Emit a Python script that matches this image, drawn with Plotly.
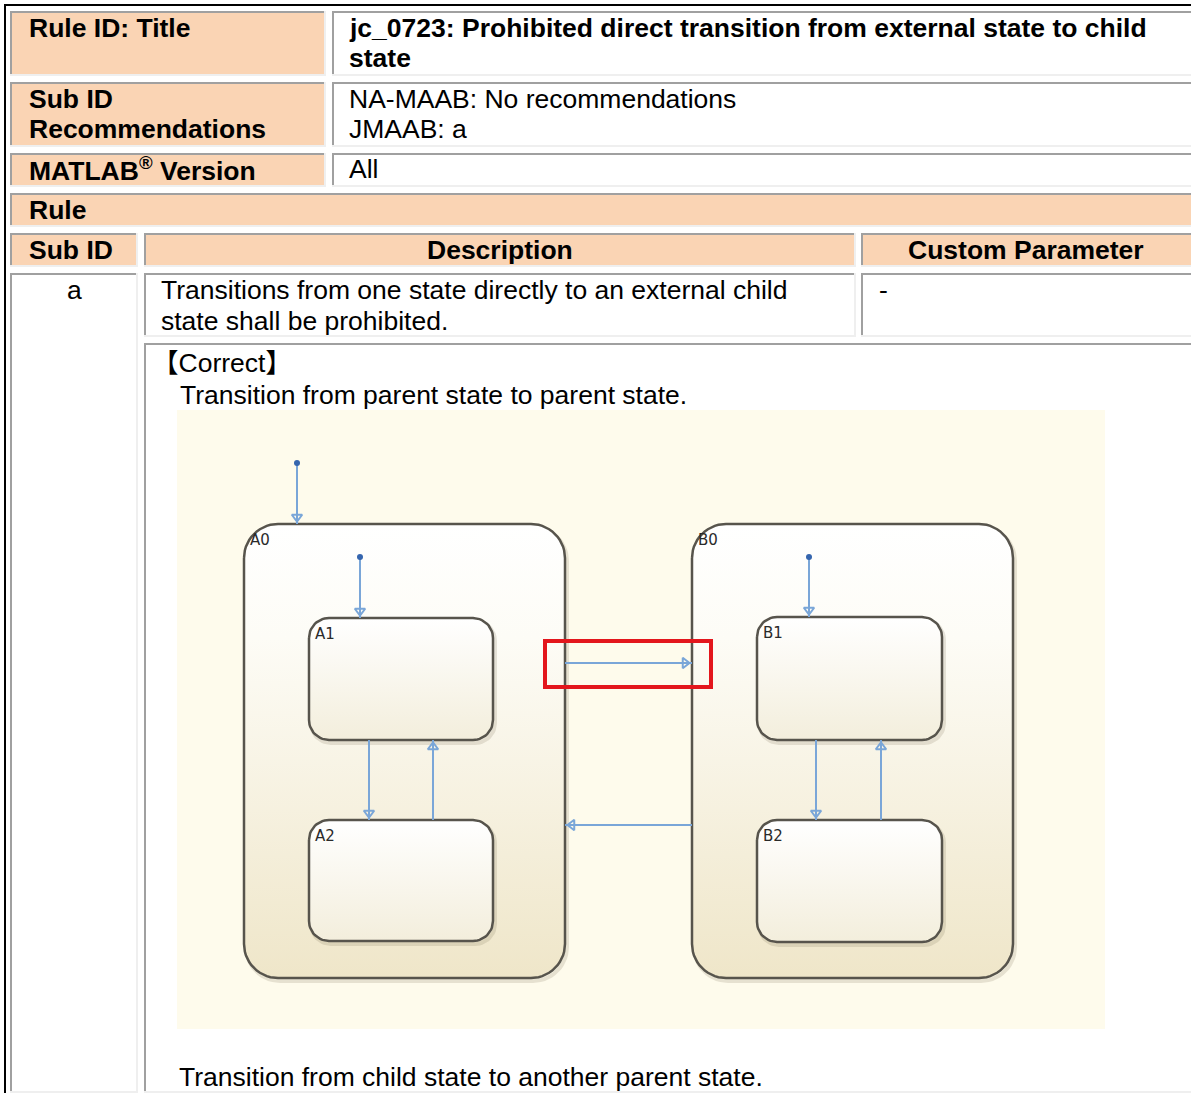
import math
import plotly.graph_objects as go

W, H = 1191, 1093

# ---------------- content (text) ----------------
title_label = "Rule ID: Title"
title_lines = ["jc_0723: Prohibited direct transition from external state to child", "state"]
subid_label_lines = ["Sub ID", "Recommendations"]
subid_value_lines = ["NA-MAAB: No recommendations", "JMAAB: a"]
version_label = "MATLAB<sup>®</sup> Version"
version_value = "All"
rule_label = "Rule"
column_headers = ["Sub ID", "Description", "Custom Parameter"]
sub_ids = ["a"]
description_lines = ["Transitions from one state directly to an external child", "state shall be prohibited."]
custom_params = ["-"]
example_heading = "【Correct】"
example_captions = ["Transition from parent state to parent state.",
                    "Transition from child state to another parent state."]

# ---------------- diagram data ----------------
state_names = ["A0", "A1", "A2", "B0", "B1", "B2"]
state_is_parent = [True, False, False, True, False, False]
state_left = [244, 309, 309, 692, 757, 757]
state_right = [565, 493, 493, 1013, 942, 942]
state_top = [524, 618, 820, 524, 617, 820]
state_bottom = [978, 740, 941, 978, 740, 942]

trans_x_from = [297, 360, 369, 433, 565, 692, 809, 816, 881]
trans_y_from = [463, 557, 740, 820, 663, 825, 557, 740, 820]
trans_x_to = [297, 360, 369, 433, 692, 565, 809, 816, 881]
trans_y_to = [524, 618, 820, 740, 663, 825, 617, 820, 740]
trans_is_default = [True, True, False, False, False, False, True, False, False]

highlight_box = [545, 641, 711, 687]  # x0, y0, x1, y1

# ---------------- styles ----------------
PEACH = "#FAD4B4"
GRAY = "#A0A0A0"
LIGHT = "#EFEFEF"
FONT = "Liberation Sans, Arial, Noto Sans CJK JP, sans-serif"
FS = 26.5
BLUE = "#7AA6D8"
DOT = "#3565AE"

fig = go.Figure()
shapes = []
annotations = []


def rect(x0, y0, x1, y1, color, layer="below"):
    shapes.append(dict(type="rect", xref="x", yref="y", x0=x0, y0=y0, x1=x1, y1=y1,
                       fillcolor=color, line=dict(width=0), layer=layer))


def cell(x0, y0, x1, y1, fill):
    rect(x0, y0, x1, y1, fill)
    rect(x0, y0, x1, y0 + 2, GRAY)          # top
    rect(x0, y0, x0 + 2, y1, GRAY)          # left
    rect(x0, y1 - 2, x1, y1, LIGHT)         # bottom
    rect(x1 - 2, y0, x1, y1, LIGHT)         # right


def text(x, baseline, s, bold=False, anchor="left", size=FS, color="#000000"):
    annotations.append(dict(x=x, y=baseline - 0.345 * size, xref="x", yref="y",
                            text=("<b>%s</b>" % s) if bold else s, showarrow=False,
                            xanchor=anchor, yanchor="middle", borderpad=0,
                            font=dict(family=FONT, size=size, color=color)))


# outer black frame
rect(4, 4, W + 5, 6, "#000000")
rect(4, 4, 6, H + 5, "#000000")

RX = W + 6
cell(10, 11, 326, 76, PEACH)
cell(332, 11, RX, 76, "#FFFFFF")
cell(10, 82, 326, 147, PEACH)
cell(332, 82, RX, 147, "#FFFFFF")
cell(10, 153, 326, 187, PEACH)
cell(332, 153, RX, 187, "#FFFFFF")
cell(10, 193, RX, 227, PEACH)
cell(10, 233, 138, 267, PEACH)
cell(144, 233, 856, 267, PEACH)
cell(861, 233, RX, 267, PEACH)
cell(10, 273, 138, 1093, "#FFFFFF")
cell(144, 273, 856, 337, "#FFFFFF")
cell(861, 273, RX, 337, "#FFFFFF")
cell(144, 343, RX, 1093, "#FFFFFF")

# cream diagram background
rect(177, 410, 1105, 1029, "#FEFBEC")

# texts
text(28, 37, title_label, bold=True)
text(348, 37, title_lines[0], bold=True)
text(348, 67, title_lines[1], bold=True)
text(28, 108, subid_label_lines[0], bold=True)
text(28, 138, subid_label_lines[1], bold=True)
text(348, 108, subid_value_lines[0])
text(348, 138, subid_value_lines[1])
text(28, 178, version_label, bold=True)
text(348, 178, version_value)
text(28, 219, rule_label, bold=True)
text(28, 259, column_headers[0], bold=True)
text(500, 259, column_headers[1], bold=True, anchor="center")
text(1026, 259, column_headers[2], bold=True, anchor="center")
text(74, 299, sub_ids[0], anchor="center")
text(160, 299, description_lines[0])
text(160, 330, description_lines[1])
text(878, 299, custom_params[0])
text(151, 372, example_heading)
text(179, 404, example_captions[0])
text(178, 1086, example_captions[1])


def rounded_path(x0, y0, x1, y1, r, n=14):
    xs, ys = [], []
    corners = [((x0 + r, y0 + r), 180, 270), ((x1 - r, y0 + r), 270, 360),
               ((x1 - r, y1 - r), 0, 90), ((x0 + r, y1 - r), 90, 180)]
    for (cx, cy), a0, a1 in corners:
        for i in range(n + 1):
            a = math.radians(a0 + (a1 - a0) * i / n)
            xs.append(cx + r * math.cos(a))
            ys.append(cy + r * math.sin(a))
    xs.append(xs[0])
    ys.append(ys[0])
    return xs, ys


# states
for name, par, l, r_, t, b in zip(state_names, state_is_parent, state_left, state_right,
                                  state_top, state_bottom):
    rad = 34 if par else 20
    sx, sy = rounded_path(l + 2, t + 3, r_ + 2, b + 3, rad)
    fig.add_trace(go.Scatter(x=sx, y=sy, mode="lines", line=dict(color="rgba(120,110,85,0.18)", width=4),
                             hoverinfo="skip", showlegend=False))
    px, py = rounded_path(l, t, r_, b, rad)
    cs = ([[0, "#EFE6C9"], [0.75, "#FDFCF6"], [1, "#FFFFFF"]] if par
          else [[0, "#F3EEDC"], [1, "#FFFFFF"]])
    fig.add_trace(go.Scatter(x=px, y=py, mode="lines", fill="toself",
                             fillgradient=dict(type="vertical", colorscale=cs),
                             line=dict(color="#57544C", width=2.5),
                             hoverinfo="skip", showlegend=False))
    annotations.append(dict(x=l + 4, y=t + 16, xref="x", yref="y", text=name, showarrow=False,
                            xanchor="left", yanchor="middle",
                            font=dict(family="DejaVu Sans, sans-serif", size=15, color="#2A2A2A")))

# transitions
for xf, yf, xt, yt, d in zip(trans_x_from, trans_y_from, trans_x_to, trans_y_to, trans_is_default):
    fig.add_trace(go.Scatter(x=[xf, xt], y=[yf, yt], mode="lines",
                             line=dict(color=BLUE, width=2), hoverinfo="skip", showlegend=False))
    dx, dy = xt - xf, yt - yf
    ln = math.hypot(dx, dy)
    ux, uy = dx / ln, dy / ln
    if abs(dx) > abs(dy):
        sym = "triangle-right-open" if dx > 0 else "triangle-left-open"
    else:
        sym = "triangle-down-open" if dy > 0 else "triangle-up-open"
    fig.add_trace(go.Scatter(x=[xt - ux * 7], y=[yt - uy * 7], mode="markers",
                             marker=dict(symbol=sym, size=9, color=BLUE, line=dict(width=2, color=BLUE)),
                             hoverinfo="skip", showlegend=False))
    if d:
        fig.add_trace(go.Scatter(x=[xf], y=[yf], mode="markers",
                                 marker=dict(symbol="circle", size=6, color=DOT),
                                 hoverinfo="skip", showlegend=False))

# highlight box
shapes.append(dict(type="rect", xref="x", yref="y", x0=highlight_box[0], y0=highlight_box[1],
                   x1=highlight_box[2], y1=highlight_box[3], line=dict(color="#E3161C", width=4),
                   fillcolor="rgba(0,0,0,0)", layer="above"))

fig.update_layout(
    width=W, height=H, autosize=False,
    margin=dict(l=0, r=0, t=0, b=0, pad=0),
    paper_bgcolor="#FFFFFF", plot_bgcolor="#FFFFFF",
    xaxis=dict(range=[0, W], visible=False, fixedrange=True, domain=[0, 1]),
    yaxis=dict(range=[H, 0], visible=False, fixedrange=True, domain=[0, 1]),
    shapes=shapes, annotations=annotations, hovermode=False, showlegend=False,
)

fig.write_html("out.html", config={"displayModeBar": False, "staticPlot": True},
               post_script="document.body.style.margin='0';document.body.style.overflow='hidden';")
